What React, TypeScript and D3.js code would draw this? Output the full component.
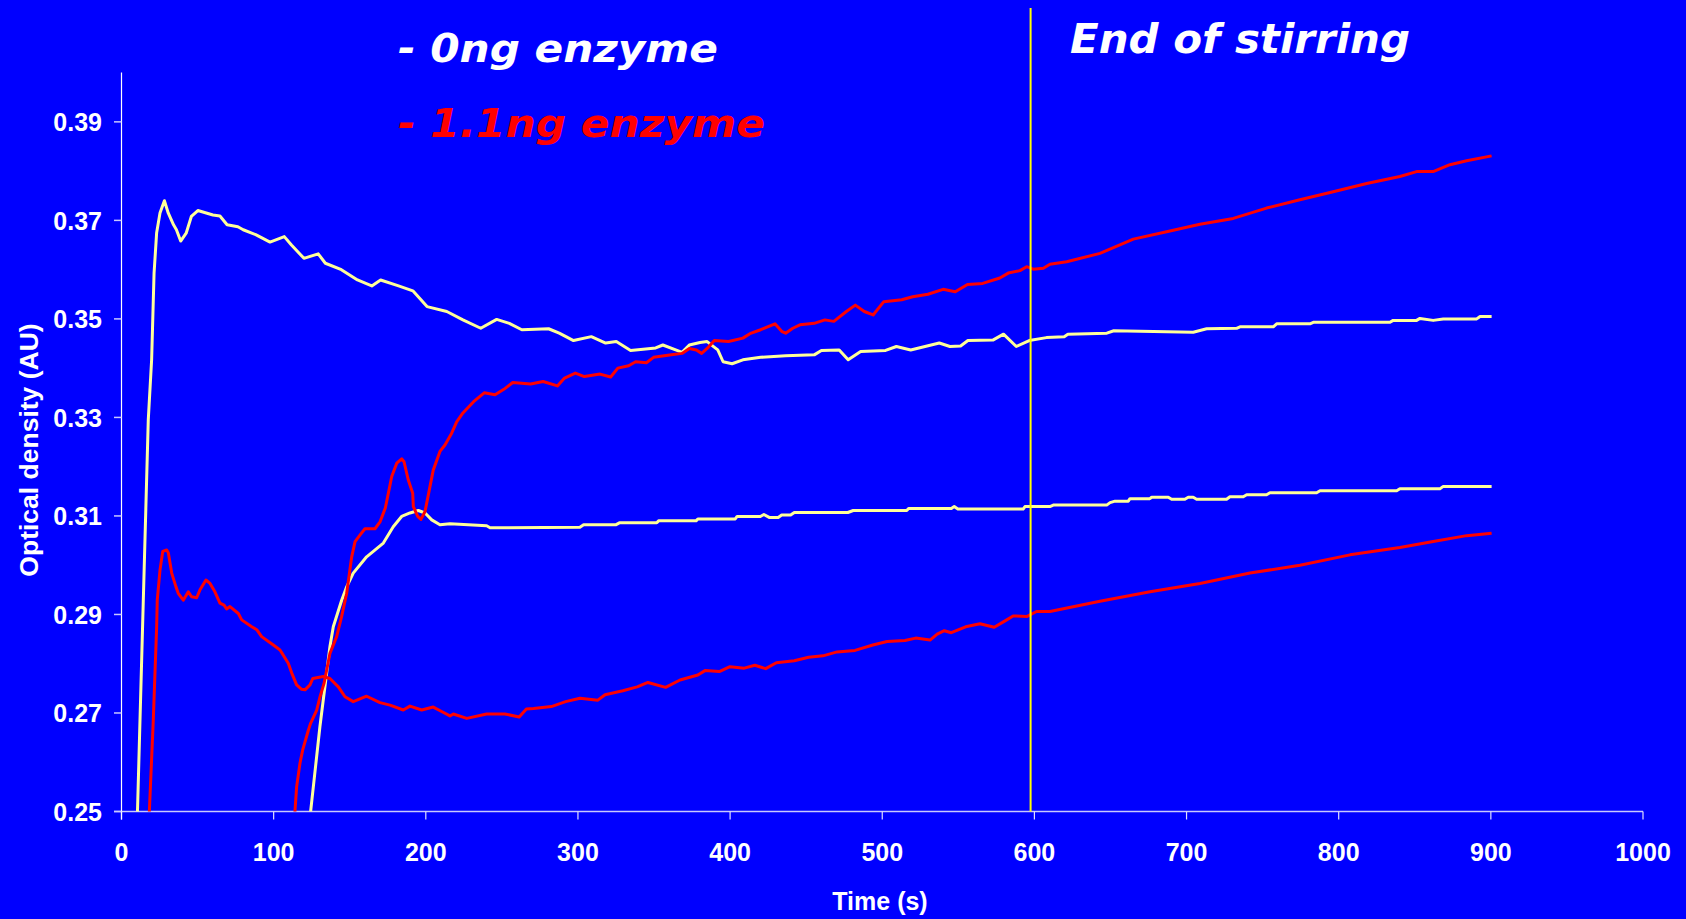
import React from "react";
import * as d3 from "d3";

// ---- Data (time in s, optical density in AU) ----
const xTicks = [0, 100, 200, 300, 400, 500, 600, 700, 800, 900, 1000];
const yTicks = [0.25, 0.27, 0.29, 0.31, 0.33, 0.35, 0.37, 0.39];
const endOfStirring = 597.5;

const legendLabels = ["- 0ng enzyme", "- 1.1ng enzyme"];
const annotationLabel = "End of stirring";

// 0 ng enzyme, run 1 (upper yellow)
const noEnzymeA: [number, number][] = [
  [9.5, 0.245], [10.5, 0.25], [17.6, 0.3295], [19.8, 0.3417], [21.4, 0.3593], [23.1, 0.3675], [25.3, 0.3715],
  [28.2, 0.374], [30.7, 0.3715], [34.2, 0.3691], [36.1, 0.3681], [38.9, 0.3658], [42.5, 0.3674], [45.9, 0.3708],
  [50.2, 0.372], [60.1, 0.3711], [64.7, 0.3709], [69.4, 0.3691], [76.5, 0.3687], [80.0, 0.3681], [88.2, 0.3671],
  [97.6, 0.3656], [107.0, 0.3667], [111.7, 0.365], [119.9, 0.3623], [129.3, 0.3632], [134.0, 0.3613], [144.5, 0.36],
  [155.1, 0.3579], [164.5, 0.3567], [170.3, 0.3579], [182.1, 0.3567], [191.5, 0.3557], [200.8, 0.3525],
  [213.8, 0.3515], [224.4, 0.3498], [236.1, 0.3481], [246.6, 0.3499], [254.9, 0.3491], [263.1, 0.3478],
  [280.7, 0.348], [287.7, 0.3471], [297.1, 0.3456], [308.8, 0.3464], [318.2, 0.3451], [325.2, 0.3454],
  [334.6, 0.3436], [351.1, 0.3441], [355.8, 0.3447], [365.1, 0.3436], [368.4, 0.3432], [373.2, 0.3447],
  [380.2, 0.3452], [384.9, 0.3454], [391.9, 0.3437], [395.4, 0.3413], [401.3, 0.3409], [408.4, 0.3417],
  [420.1, 0.3422], [436.5, 0.3425], [455.3, 0.3427], [460.0, 0.3436], [471.7, 0.3437], [477.6, 0.3417],
  [485.8, 0.3434], [502.2, 0.3436], [509.3, 0.3444], [518.7, 0.3437], [537.5, 0.3451], [544.5, 0.3444],
  [551.5, 0.3445], [556.3, 0.3456], [572.7, 0.3457], [579.7, 0.3469], [588.1, 0.3444], [596.6, 0.3456],
  [607.9, 0.3462], [619.6, 0.3464], [622.0, 0.3469], [647.6, 0.3471], [652.2, 0.3476], [704.4, 0.3473],
  [713.2, 0.348], [732.9, 0.3481], [735.1, 0.3484], [757.0, 0.3484], [759.2, 0.349], [781.1, 0.349],
  [783.3, 0.3493], [833.7, 0.3493], [835.8, 0.3497], [851.2, 0.3497], [853.4, 0.3501], [862.1, 0.3497],
  [868.7, 0.35], [890.7, 0.35], [892.9, 0.3505], [900.5, 0.3505],
];

// 0 ng enzyme, run 2 (lower yellow)
const noEnzymeB: [number, number][] = [
  [123.5, 0.245], [124.3, 0.25], [130.4, 0.2672], [137.0, 0.2835], [139.2, 0.2875], [144.7, 0.2929],
  [148.0, 0.2956], [152.3, 0.2984], [161.1, 0.3017], [165.5, 0.3028], [172.1, 0.3045], [178.6, 0.3078],
  [184.1, 0.3099], [189.6, 0.3106], [195.1, 0.3111], [199.5, 0.3106], [203.9, 0.3092], [209.3, 0.3082],
  [215.9, 0.3084], [240.0, 0.308], [242.2, 0.3076], [301.3, 0.3077], [303.7, 0.3082], [324.8, 0.3082],
  [327.2, 0.3086], [351.8, 0.3086], [353.0, 0.309], [377.6, 0.309], [378.8, 0.3094], [403.4, 0.3094],
  [404.6, 0.3099], [419.9, 0.3099], [422.2, 0.3103], [425.7, 0.3097], [431.6, 0.3097], [433.9, 0.3102],
  [439.8, 0.3102], [442.2, 0.3107], [477.4, 0.3107], [480.9, 0.3111], [516.1, 0.3111], [517.3, 0.3115],
  [545.4, 0.3115], [547.3, 0.3119], [549.7, 0.3114], [592.6, 0.3114], [593.8, 0.3119], [610.2, 0.3119],
  [612.4, 0.3122], [647.5, 0.3122], [649.7, 0.3127], [653.0, 0.313], [661.7, 0.313], [662.8, 0.3135],
  [675.9, 0.3135], [677.1, 0.3138], [688.0, 0.3138], [690.2, 0.3134], [698.9, 0.3134], [701.1, 0.3138],
  [704.4, 0.3138], [706.6, 0.3134], [726.3, 0.3134], [728.5, 0.3139], [737.3, 0.3139], [739.5, 0.3143],
  [752.6, 0.3143], [754.8, 0.3147], [785.5, 0.3147], [787.7, 0.3151], [838.1, 0.3151], [840.2, 0.3155],
  [866.5, 0.3155], [868.7, 0.316], [900.5, 0.316],
];

// 1.1 ng enzyme, run 1 (upper red)
const enzymeA: [number, number][] = [
  [113.5, 0.245], [114.0, 0.25], [115.1, 0.255], [117.3, 0.2598], [119.1, 0.2625], [122.8, 0.2665],
  [124.3, 0.2679], [128.3, 0.2706], [130.5, 0.2733], [133.1, 0.276], [137.0, 0.2821], [141.4, 0.2855],
  [144.7, 0.2896], [148.0, 0.2943], [151.3, 0.3017], [153.5, 0.3048], [156.7, 0.3061], [160.0, 0.3074],
  [166.6, 0.3074], [169.9, 0.3088], [173.4, 0.3116], [176.5, 0.3163], [177.6, 0.318], [180.9, 0.3207],
  [184.2, 0.3216], [185.7, 0.321], [188.5, 0.3173], [191.4, 0.3146], [191.8, 0.3119], [194.7, 0.3099],
  [196.8, 0.3093], [199.5, 0.3109], [202.7, 0.3159], [204.9, 0.3193], [209.3, 0.3231], [212.6, 0.3244],
  [217.0, 0.3268], [220.3, 0.3291], [224.4, 0.3309], [231.4, 0.3332], [238.4, 0.335], [245.5, 0.3346],
  [251.3, 0.3357], [257.2, 0.3371], [268.9, 0.3368], [277.1, 0.3373], [286.5, 0.3364], [291.2, 0.338],
  [298.3, 0.339], [304.2, 0.3383], [314.5, 0.3388], [321.5, 0.3382], [326.2, 0.34], [333.3, 0.3405],
  [337.9, 0.3413], [345.0, 0.3411], [349.7, 0.3422], [361.4, 0.3427], [368.4, 0.343], [373.2, 0.344],
  [377.8, 0.3437], [381.3, 0.343], [384.9, 0.344], [389.6, 0.3456], [399.0, 0.3454], [408.4, 0.3461],
  [413.0, 0.347], [420.1, 0.3478], [429.5, 0.349], [434.2, 0.3474], [436.5, 0.3471], [441.2, 0.3481],
  [445.9, 0.3488], [455.3, 0.3491], [462.3, 0.3498], [468.2, 0.3495], [476.4, 0.3515], [482.3, 0.3528],
  [488.2, 0.3515], [494.0, 0.3508], [501.0, 0.3535], [512.8, 0.3539], [520, 0.3545], [530, 0.355],
  [540, 0.356], [548, 0.3555], [556, 0.357], [566, 0.3572], [577.3, 0.3583], [582.8, 0.3593], [590.5, 0.3598],
  [594.9, 0.3606], [599.3, 0.3601], [605.9, 0.3603], [610.2, 0.3611], [621.2, 0.3616], [643.1, 0.3633],
  [665.0, 0.3662], [686.9, 0.3677], [708.8, 0.3692], [730.7, 0.3704], [752.6, 0.3725], [774.5, 0.3742],
  [796.4, 0.3758], [818.4, 0.3775], [840.2, 0.3789], [851.2, 0.3799], [862.1, 0.3799], [873.1, 0.3813],
  [884.1, 0.3821], [900.5, 0.3831],
];

// 1.1 ng enzyme, run 2 (lower red)
const enzymeB: [number, number][] = [
  [17.8, 0.245], [18.3, 0.25], [20.9, 0.2686], [23.1, 0.2875], [23.5, 0.2929], [25.3, 0.299], [27.1, 0.3028],
  [29.7, 0.3031], [30.8, 0.3025], [33.0, 0.2984], [35.8, 0.2956], [37.3, 0.2943], [40.6, 0.2929], [43.9, 0.2946],
  [46.1, 0.2936], [49.4, 0.2934], [51.6, 0.295], [55.5, 0.297], [58.2, 0.2963], [61.4, 0.2946], [64.7, 0.2923],
  [67.4, 0.2919], [69.1, 0.2911], [71.3, 0.2916], [76.8, 0.2902], [79.0, 0.2889], [85.6, 0.2875], [88.9, 0.2869],
  [92.1, 0.2855], [99.8, 0.2838], [104.2, 0.2828], [109.6, 0.2801], [111.9, 0.2781], [115.1, 0.2757],
  [118.4, 0.2748], [120.6, 0.2747], [123.9, 0.2757], [125.7, 0.277], [132.6, 0.2774], [137.0, 0.277],
  [142.5, 0.2753], [146.9, 0.2733], [152.3, 0.2723], [161.1, 0.2734], [169.9, 0.2721], [176.5, 0.2716],
  [185.2, 0.2706], [189.6, 0.2714], [197.3, 0.2706], [204.9, 0.2712], [210.4, 0.2703], [215.9, 0.2694],
  [218.1, 0.2698], [226.9, 0.2689], [240.0, 0.2698], [252.0, 0.2698], [261.4, 0.2692], [266.1, 0.2708],
  [270.8, 0.2709], [282.5, 0.2713], [291.9, 0.2723], [301.3, 0.273], [313.1, 0.2726], [317.8, 0.2737],
  [329.5, 0.2745], [338.9, 0.2753], [346.0, 0.2762], [357.6, 0.2752], [367.1, 0.2767], [378.8, 0.2777],
  [383.5, 0.2786], [392.9, 0.2784], [399.9, 0.2794], [409.3, 0.2791], [416.3, 0.2797], [423.4, 0.279],
  [430.4, 0.2802], [442.2, 0.2806], [451.6, 0.2813], [461.0, 0.2816], [470.3, 0.2824], [482.1, 0.2827],
  [493.8, 0.2838], [503.2, 0.2845], [514.9, 0.2847], [522.0, 0.2852], [531.4, 0.2848], [536.1, 0.286],
  [540.8, 0.2867], [545.4, 0.2863], [554.8, 0.2875], [564.2, 0.2881], [573.6, 0.2874], [580.7, 0.2887],
  [586.0, 0.2897], [595.2, 0.2896], [601.4, 0.2906], [610.2, 0.2906], [643.1, 0.2927], [676.0, 0.2946],
  [708.8, 0.2963], [741.7, 0.2984], [774.5, 0.3], [807.4, 0.3021], [840.2, 0.3036], [862.1, 0.3048],
  [884.1, 0.306], [900.5, 0.3065],
];

const W = 1686;
const H = 919;
const BG = "#0000ff";
const YELLOW = "#ffff99";
const RED = "#ff0000";

export default function App() {
  const x = d3.scaleLinear().domain([0, 1000]).range([121.5, 1643]);
  const y = d3.scaleLinear().domain([0.25, 0.4]).range([811.5, 72.6]);
  const line = d3
    .line<[number, number]>()
    .x((d) => x(d[0]))
    .y((d) => y(d[1]));

  const left = x(0);
  const right = x(1000);
  const bottom = y(0.25);
  const top = y(0.4);

  const series = [
    { data: noEnzymeA, color: YELLOW },
    { data: noEnzymeB, color: YELLOW },
    { data: enzymeB, color: RED },
    { data: enzymeA, color: RED },
  ];

  const tickFont = "'Liberation Sans', Arial, sans-serif";
  const legendFont = "'DejaVu Sans', Verdana, sans-serif";

  return (
    <svg
      width={W}
      height={H}
      style={{ position: "absolute", left: 0, top: 0, display: "block" }}
    >
      <defs>
        <clipPath id="plotClip">
          <rect x={left} y={top - 5} width={right - left} height={bottom - top + 5} />
        </clipPath>
      </defs>
      <rect x={0} y={0} width={W} height={H} fill={BG} />

      {/* x axis */}
      <line x1={114} x2={right} y1={bottom} y2={bottom} stroke="#c8c8ff" strokeWidth={1.5} />
      {xTicks.map((t) => (
        <g key={"xt" + t}>
          <line x1={x(t)} x2={x(t)} y1={bottom} y2={bottom + 8} stroke="#e0e0ff" strokeWidth={1.2} />
          <text
            x={x(t)}
            y={861}
            textAnchor="middle"
            fill="#ffffff"
            fontFamily={tickFont}
            fontWeight="bold"
            fontSize={25}
          >
            {t}
          </text>
        </g>
      ))}

      {/* y axis */}
      <line x1={left} x2={left} y1={top} y2={bottom + 8} stroke="#ffffff" strokeWidth={1.2} />
      {yTicks.map((v) => (
        <g key={"yt" + v}>
          <line x1={114} x2={left} y1={y(v)} y2={y(v)} stroke="#c8c8ff" strokeWidth={1.5} />
          <text
            x={102}
            y={y(v) + 9.5}
            textAnchor="end"
            fill="#ffffff"
            fontFamily={tickFont}
            fontWeight="bold"
            fontSize={25}
          >
            {v.toFixed(2)}
          </text>
        </g>
      ))}

      {/* axis titles */}
      <text
        x={880}
        y={910}
        textAnchor="middle"
        fill="#ffffff"
        fontFamily={tickFont}
        fontWeight="bold"
        fontSize={25}
      >
        Time (s)
      </text>
      <text
        transform={`translate(38, 450) rotate(-90)`}
        textAnchor="middle"
        fill="#ffffff"
        fontFamily={tickFont}
        fontWeight="bold"
        fontSize={26.5}
      >
        Optical density (AU)
      </text>

      {/* series */}
      <g clipPath="url(#plotClip)">
        {series.map((s, i) => (
          <path
            key={i}
            d={line(s.data) || ""}
            fill="none"
            stroke={s.color}
            strokeWidth={3}
            strokeLinejoin="round"
          />
        ))}
      </g>

      {/* end of stirring marker */}
      <line
        x1={x(endOfStirring)}
        x2={x(endOfStirring)}
        y1={8}
        y2={bottom}
        stroke="#ffff00"
        strokeWidth={2}
      />

      {/* legend / annotation texts */}
      <text
        x={398}
        y={62}
        fill="#ffffff"
        fontFamily={legendFont}
        fontWeight="bold"
        fontStyle="italic"
        fontSize={39}
        textLength={320}
        lengthAdjust="spacingAndGlyphs"
      >
        {legendLabels[0]}
      </text>
      <text
        x={398}
        y={137}
        fill={RED}
        fontFamily={legendFont}
        fontWeight="bold"
        fontStyle="italic"
        fontSize={39}
        textLength={367}
        lengthAdjust="spacingAndGlyphs"
      >
        {legendLabels[1]}
      </text>
      <text
        x={1070}
        y={53}
        fill="#ffffff"
        fontFamily={legendFont}
        fontWeight="bold"
        fontStyle="italic"
        fontSize={41}
        textLength={340}
        lengthAdjust="spacingAndGlyphs"
      >
        {annotationLabel}
      </text>
    </svg>
  );
}
